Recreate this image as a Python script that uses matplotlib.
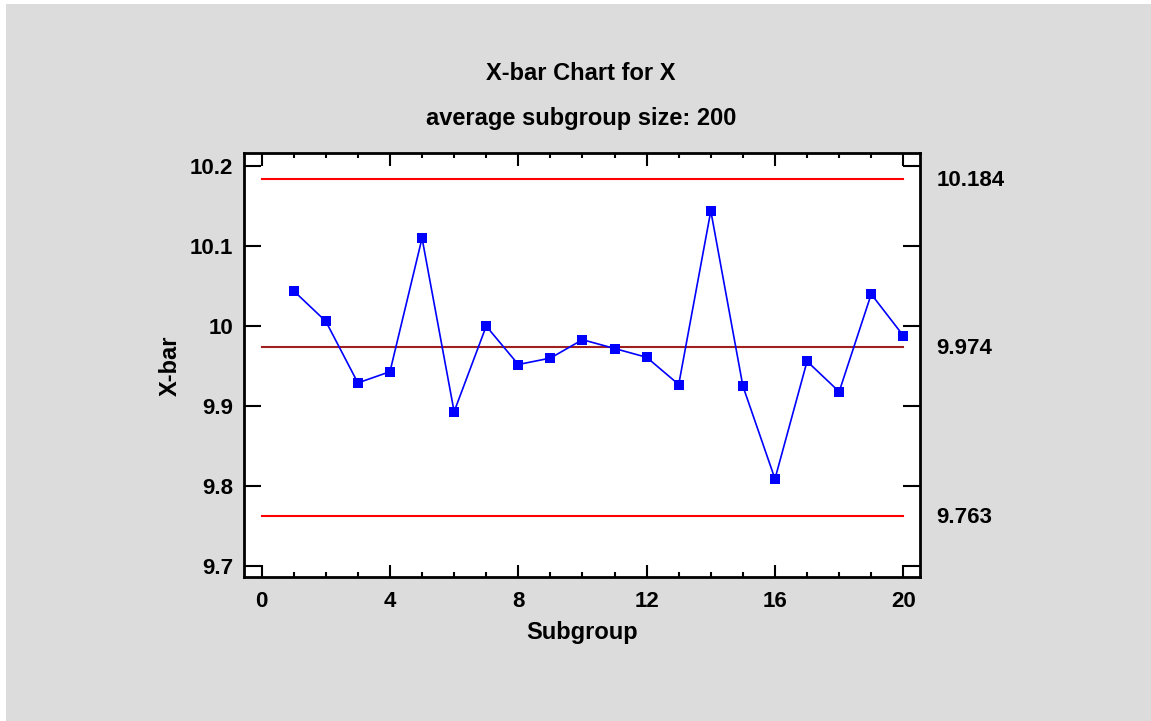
import matplotlib
matplotlib.use("Agg")
import matplotlib.pyplot as plt
from matplotlib.ticker import MultipleLocator

# subgroup averages
subgroup = list(range(1, 21))
xbar = [10.044, 10.006, 9.929, 9.943, 10.110, 9.893, 10.000, 9.952, 9.960, 9.983,
        9.972, 9.961, 9.927, 10.144, 9.925, 9.809, 9.956, 9.918, 10.040, 9.988]

# control limits
ucl = 10.184
center = 9.974
lcl = 9.763
limit_labels = ["10.184", "9.974", "9.763"]

title = "X-bar Chart for X"
subtitle = "average subgroup size: 200"

plt.rcParams['font.family'] = ['Liberation Sans', 'DejaVu Sans']
plt.rcParams['font.weight'] = 'bold'

bg = '#DCDCDC'
W, H = 1151, 721
fig = plt.figure(figsize=(W / 100, H / 100), dpi=100, facecolor='white')
# gray panel with a thin white margin on the top and left
fig.patches.append(plt.Rectangle((6 / W, 0), 1 - 6 / W, 1 - 4 / H, transform=fig.transFigure,
                                 facecolor=bg, edgecolor='none', zorder=-10))

ax = fig.add_axes([244.3 / W, (H - 577.3) / H, (920 - 244.3) / W, (577.3 - 153.3) / H])
ax.set_facecolor('white')

ax.plot([0, 20], [ucl, ucl], color='#FF0000', lw=1.5)
ax.plot([0, 20], [lcl, lcl], color='#FF0000', lw=1.5)
ax.plot([0, 20], [center, center], color='#A02020', lw=1.5)
ax.plot(subgroup, xbar, '-s', color='#0000FF', lw=1.2, markersize=6.5, markeredgewidth=0)

ax.set_xlim(-0.54, 20.52)
ax.set_ylim(9.686, 10.216)

ax.xaxis.set_major_locator(MultipleLocator(4))
ax.xaxis.set_minor_locator(MultipleLocator(1))
ax.set_yticks([9.7, 9.8, 9.9, 10.0, 10.1, 10.2])
ax.set_yticklabels(["9.7", "9.8", "9.9", "10", "10.1", "10.2"])

ax.tick_params(axis='x', which='major', direction='in', length=9, width=1.5,
               top=True, labelsize=16, pad=10)
ax.tick_params(axis='x', which='minor', direction='in', length=3.5, width=1.5, top=True)
ax.tick_params(axis='y', which='major', direction='in', length=12, width=1.5,
               right=True, labelsize=16, pad=8)
for s in ax.spines.values():
    s.set_linewidth(2)

# labels of the control lines on the right
for val, lab in zip([ucl, center, lcl], limit_labels):
    ax.annotate(lab, xy=(1, val), xycoords=('axes fraction', 'data'),
                xytext=(12, -1.5), textcoords='offset points',
                ha='left', va='center', fontsize=16, fontweight='bold')

ax.set_xlabel("Subgroup", fontsize=17, fontweight='bold', labelpad=6.5)
ax.set_ylabel("X-bar", fontsize=17, fontweight='bold', labelpad=6)

fig.text(581 / W, 1 - 73 / H, title, ha='center', va='center', fontsize=17, fontweight='bold')
fig.text(581 / W, 1 - 118 / H, subtitle, ha='center', va='center', fontsize=17, fontweight='bold')

fig.savefig("out.png", dpi=100, facecolor='white')
